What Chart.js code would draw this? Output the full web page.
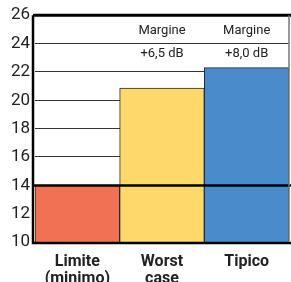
<!DOCTYPE html>
<html>
<head>
<meta charset="utf-8">
<script src="https://cdn.jsdelivr.net/npm/chart.js@4"></script>
<style>
  html, body { margin: 0; padding: 0; background: #fff; }
  #wrap { width: 291px; height: 282px; }
</style>
</head>
<body>
<div id="wrap"><canvas id="chartMargine"></canvas></div>
<script>
// Dati
const categorie = [['Limite', '(minimo)'], ['Worst', 'case'], ['Tipico']];
const valori = [14, 20.85, 22.3];
const margini = ['', '+6,5 dB', '+8,0 dB'];
const colori = ['#f07153', '#fed86b', '#4a8ccb'];
const soglia = 14;
const yMin = 10, yMax = 26, yStep = 2;

const FONT = 'Roboto, "Liberation Sans", sans-serif';

// linea soglia, bordi e testi "Margine"
const extras = {
    id: 'extras',
    afterDatasetsDraw(chart) {
        const { ctx, chartArea, scales } = chart;
        const ys = scales.y;
        ctx.save();
        // soglia
        const y14 = Math.round(ys.getPixelForValue(soglia)) + 0.5;
        ctx.strokeStyle = '#000';
        ctx.lineWidth = 2.5;
        ctx.beginPath();
        ctx.moveTo(chartArea.left - 2, y14);
        ctx.lineTo(chart.width, y14);
        ctx.stroke();
        // bordo superiore
        const yTop = ys.getPixelForValue(yMax);
        ctx.lineWidth = 3;
        ctx.beginPath();
        ctx.moveTo(chartArea.left - 2, yTop);
        ctx.lineTo(chart.width, yTop);
        ctx.stroke();
        // asse sinistro e inferiore
        ctx.lineWidth = 2.5;
        ctx.beginPath();
        ctx.moveTo(chartArea.left - 2, yTop);
        ctx.lineTo(chartArea.left - 2, chartArea.bottom + 1);
        ctx.lineTo(chart.width, chartArea.bottom + 1);
        ctx.stroke();
        // bordo destro grigio
        ctx.strokeStyle = '#777';
        ctx.lineWidth = 1.5;
        ctx.beginPath();
        ctx.moveTo(chartArea.right, yTop);
        ctx.lineTo(chartArea.right, chartArea.bottom);
        ctx.stroke();
        // testi margine
        const meta = chart.getDatasetMeta(0);
        ctx.fillStyle = '#222';
        ctx.font = '13px ' + FONT;
        ctx.textAlign = 'center';
        ctx.textBaseline = 'middle';
        margini.forEach((m, i) => {
            if (!m) return;
            const x = meta.data[i].x;
            ctx.fillText('Margine', x, 31);
            ctx.fillText(m, x, 54);
        });
        ctx.restore();
    }
};

new Chart(document.getElementById('chartMargine'), {
    type: 'bar',
    data: {
        labels: categorie,
        datasets: [{
            data: valori,
            backgroundColor: colori,
            borderColor: '#2a2a2a',
            borderWidth: 1,
            borderSkipped: false,
            barPercentage: 1,
            categoryPercentage: 1
        }]
    },
    options: {
        responsive: true, maintainAspectRatio: false, animation: false,
        layout: { padding: { top: 14, right: 2, left: 0, bottom: 0 } },
        plugins: { legend: { display: false }, tooltip: { enabled: false } },
        scales: {
            x: {
                grid: { display: false },
                border: { display: false },
                ticks: {
                    color: '#222',
                    maxRotation: 0, minRotation: 0, autoSkip: false,
                    font: { family: FONT, size: 16, weight: 'bold', lineHeight: 1.05 },
                    padding: 4
                },
                afterFit: s => { s.height = 40; }
            },
            y: {
                min: yMin, max: yMax,
                grid: { color: '#333', lineWidth: 1, drawTicks: false },
                border: { display: false },
                ticks: {
                    stepSize: yStep,
                    color: '#222',
                    font: { family: FONT, size: 17 },
                    padding: 5
                },
                afterFit: s => { s.width = 35; }
            }
        }
    },
    plugins: [extras]
});
</script>
</body>
</html>
